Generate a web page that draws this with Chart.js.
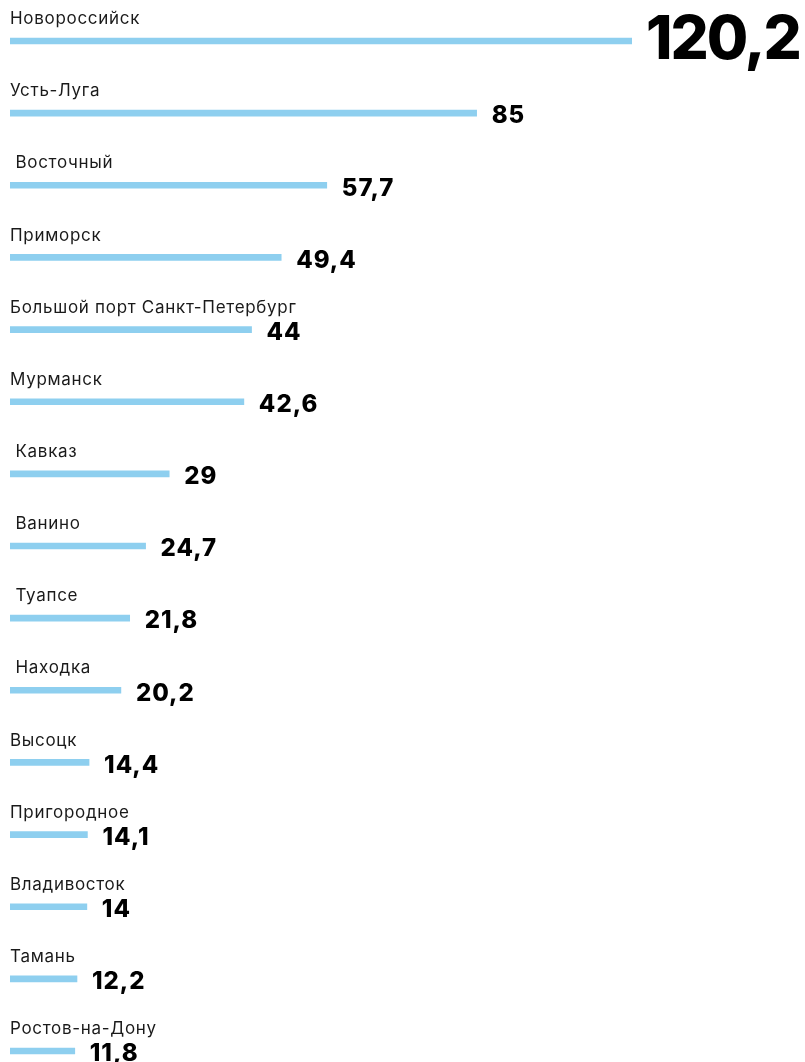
<!DOCTYPE html>
<html>
<head>
<meta charset="utf-8">
<script src="https://cdn.jsdelivr.net/npm/chart.js@4"></script>
<style>
  html, body { margin: 0; padding: 0; background: #fff; }
  #wrap { width: 805px; height: 1062px; position: relative; }
</style>
</head>
<body>
<div id="wrap"><canvas id="grafico"></canvas></div>
<script>
const portos = ['Новороссийск', 'Усть-Луга', ' Восточный', 'Приморск', 'Большой порт Санкт-Петербург',
  'Мурманск', ' Кавказ', ' Ванино', ' Туапсе', ' Находка', 'Высоцк', 'Пригородное',
  'Владивосток', 'Тамань', 'Ростов-на-Дону'];
const valores = [120.2, 85, 57.7, 49.4, 44, 42.6, 29, 24.7, 21.8, 20.2, 14.4, 14.1, 14, 12.2, 11.8];
const escalaMax = 113.3;

const rotulos = {
  id: 'rotulos',
  afterDatasetsDraw(chart) {
    const ctx = chart.ctx;
    const area = chart.chartArea;
    const meta = chart.getDatasetMeta(0);
    ctx.save();
    meta.data.forEach((bar, i) => {
      // nome do porto acima da barra
      ctx.font = '400 17px Inter';
      ctx.letterSpacing = '0.7px';
      ctx.fillStyle = '#1a1a1a';
      ctx.textBaseline = 'middle';
      ctx.textAlign = 'left';
      ctx.fillText(portos[i], area.left, bar.y - 22);

      // valor a direita
      const fim = Math.min(bar.x, area.right);
      const texto = String(valores[i]).replace('.', ',');
      ctx.fillStyle = '#000';
      if (i === 0) {
        ctx.font = '800 60px Inter';
        ctx.letterSpacing = '-2px';
        ctx.fillText(texto, fim + 14, bar.y);
      } else {
        ctx.font = '800 24px Inter';
        ctx.letterSpacing = '1px';
        ctx.fillText(texto, fim + 15, bar.y + 3);
      }
    });
    ctx.restore();
  }
};

document.addEventListener('DOMContentLoaded', function() {
  const ctx = document.getElementById('grafico').getContext('2d');
  new Chart(ctx, {
    type: 'bar',
    data: {
      labels: portos,
      datasets: [{
        data: valores,
        backgroundColor: '#8ecfef',
        borderWidth: 0,
        barThickness: 6,
        clip: { left: 0, right: 0, top: 10, bottom: 10 }
      }]
    },
    options: {
      indexAxis: 'y',
      responsive: true,
      maintainAspectRatio: false,
      animation: false,
      layout: { padding: { left: 10, right: 173, top: 41, bottom: 11 } },
      plugins: { legend: { display: false }, tooltip: { enabled: false } },
      scales: {
        x: { display: false, min: 0, max: escalaMax },
        y: { display: false, offset: false }
      }
    },
    plugins: [rotulos]
  });
});
</script>
</body>
</html>
